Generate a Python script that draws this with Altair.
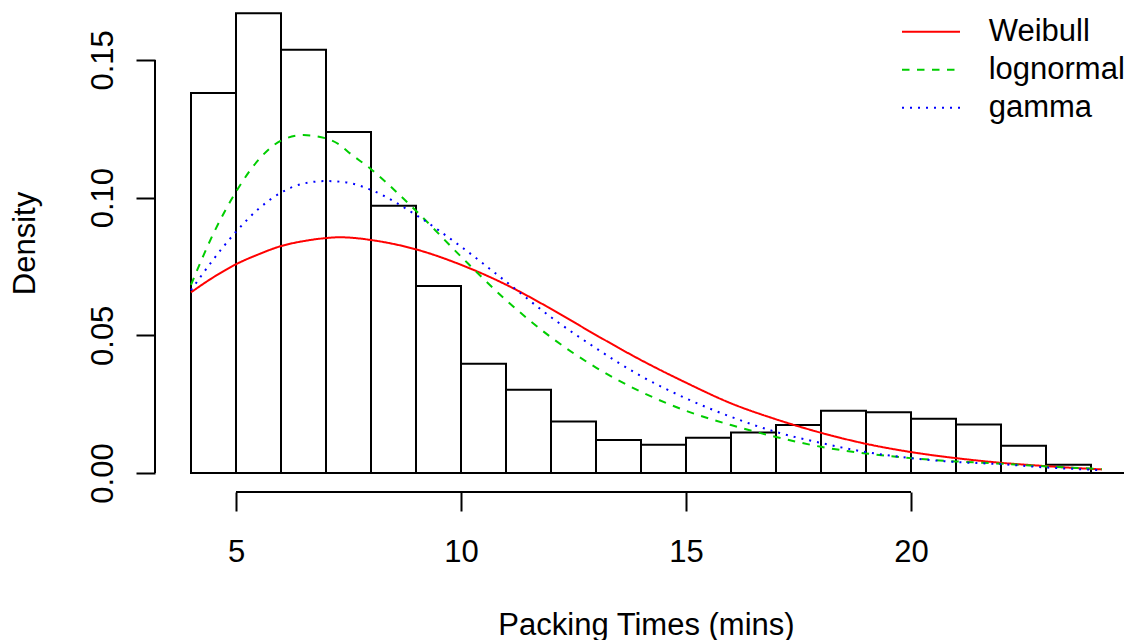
import altair as alt
import pandas as pd

# ---------------- data ----------------
bin_left = [4, 5, 6, 7, 8, 9, 10, 11, 12, 13, 14, 15, 16, 17, 18, 19, 20, 21, 22, 23, 24]
bin_right = [5, 6, 7, 8, 9, 10, 11, 12, 13, 14, 15, 16, 17, 18, 19, 20, 21, 22, 23, 24, 25]
bin_density = [0.1380, 0.1669, 0.1537, 0.1238, 0.0970, 0.0679, 0.0397, 0.0302, 0.0187,
               0.0120, 0.0103, 0.0128, 0.0147, 0.0174, 0.0226, 0.0221, 0.0197, 0.0176,
               0.0099, 0.0030, 0.0]

curve_x = [4, 4.5, 5, 5.5, 6, 6.5, 7, 7.3, 7.5, 8, 9, 10, 11, 12, 13, 14, 15, 16, 17,
           18, 19, 20, 21, 22, 23, 24, 24.24]
weibull = [0.0656, 0.0711, 0.0758, 0.0794, 0.0824, 0.0842, 0.0853, 0.0856, 0.0855, 0.0846,
           0.0812, 0.0756, 0.0684, 0.0596, 0.0501, 0.0410, 0.0328, 0.0253, 0.0195,
           0.0146, 0.0106, 0.0076, 0.0054, 0.0037, 0.0025, 0.0015, 0.0013]
lognormal = [0.0683, 0.0870, 0.1021, 0.1137, 0.1207, 0.1227, 0.1215, 0.1192, 0.1165, 0.1103,
             0.0952, 0.0786, 0.0628, 0.0493, 0.0383, 0.0295, 0.0226, 0.0174, 0.0131,
             0.0095, 0.0071, 0.0054, 0.0042, 0.0034, 0.0024, 0.0016, 0.0014]
gamma = [0.0664, 0.0776, 0.0876, 0.0959, 0.1018, 0.1051, 0.1060, 0.1058, 0.1054, 0.1028,
         0.0937, 0.0822, 0.0695, 0.0566, 0.0453, 0.0352, 0.0271, 0.0204, 0.0149,
         0.0109, 0.0076, 0.0054, 0.0040, 0.0032, 0.0020, 0.0012, 0.0010]

series_names = ["Weibull", "lognormal", "gamma"]
series_colors = ["#FF0000", "#00CD00", "#0000FF"]
series_dashes = [[1, 0], [7.5, 7.5], [2, 6]]

x_ticks = [5, 10, 15, 20]
y_ticks = [0.00, 0.05, 0.10, 0.15]

x_domain = [3.2, 24.7333]
y_domain = [-0.0069, 0.16885]

FONT = "Liberation Sans"
FS = 31

# ---------------- tables ----------------
hist_df = pd.DataFrame({"left": bin_left, "right": bin_right,
                        "density": bin_density, "base": [0.0] * len(bin_left)})

curve_df = pd.DataFrame({
    "x": curve_x * 3,
    "density": weibull + lognormal + gamma,
    "dist": [n for n in series_names for _ in curve_x],
})

xaxis_line_df = pd.DataFrame({"x": [x_ticks[0]], "x2": [x_ticks[-1]], "y": [y_domain[0]]})
yaxis_line_df = pd.DataFrame({"x": [x_domain[0]], "y": [y_ticks[0]], "y2": [y_ticks[-1]]})

# ---------------- scales and axes ----------------
x_scale = alt.Scale(domain=x_domain, nice=False, zero=False)
y_scale = alt.Scale(domain=y_domain, nice=False, zero=False)

x_axis = alt.Axis(values=x_ticks, title="Packing Times (mins)", format="d",
                  labelBaseline="alphabetic", labelAlign="center", labelPadding=50,
                  labelFlush=False, labelOverlap=False,
                  titleX=491, titleY=142, titleAlign="center", titleBaseline="alphabetic")
y_axis = alt.Axis(values=y_ticks, title="Density", format=".2f",
                  labelAngle=270, labelAlign="center", labelBaseline="alphabetic",
                  labelPadding=24, labelFlush=False, labelOverlap=False,
                  titleAngle=270, titleX=-121, titleY=235, titleAlign="center",
                  titleBaseline="alphabetic")

legend = alt.Legend(title=None, orient="none", legendX=746, legendY=5,
                    symbolType="stroke", symbolSize=3364, symbolStrokeWidth=2,
                    symbolOffset=0, labelOffset=27.7, rowPadding=0, padding=0,
                    clipHeight=37.5,
                    labelFont=FONT, labelFontSize=FS, labelColor="black")

# ---------------- layers ----------------
bars = alt.Chart(hist_df).mark_rect(fill="white", stroke="black", strokeWidth=2, clip=True).encode(
    x=alt.X("left:Q", scale=x_scale, axis=x_axis),
    x2="right:Q",
    y=alt.Y("base:Q", scale=y_scale, axis=y_axis),
    y2="density:Q",
)

lines = alt.Chart(curve_df).mark_line(strokeWidth=2, interpolate="monotone").encode(
    x=alt.X("x:Q", scale=x_scale, axis=x_axis),
    y=alt.Y("density:Q", scale=y_scale, axis=y_axis),
    color=alt.Color("dist:N", scale=alt.Scale(domain=series_names, range=series_colors),
                    legend=legend),
    strokeDash=alt.StrokeDash("dist:N", scale=alt.Scale(domain=series_names, range=series_dashes),
                              legend=legend),
)

x_line = alt.Chart(xaxis_line_df).mark_rule(color="black", strokeWidth=2).encode(
    x=alt.X("x:Q", scale=x_scale, axis=x_axis),
    x2="x2:Q",
    y=alt.Y("y:Q", scale=y_scale, axis=y_axis),
)

y_line = alt.Chart(yaxis_line_df).mark_rule(color="black", strokeWidth=2).encode(
    x=alt.X("x:Q", scale=x_scale, axis=x_axis),
    y=alt.Y("y:Q", scale=y_scale, axis=y_axis),
    y2="y2:Q",
)

chart = alt.layer(bars, lines, x_line, y_line).properties(
    width=969, height=484,
    padding={"left": 147, "top": 0, "right": 0, "bottom": 148},
    autosize=alt.AutoSizeParams(type="none"),
    background="white",
).configure_view(stroke=None).configure_axis(
    grid=False, domain=False, ticks=True, tickColor="black", tickWidth=2, tickSize=19,
    labelFont=FONT, labelFontSize=FS, labelColor="black",
    titleFont=FONT, titleFontSize=FS, titleColor="black", titleFontWeight="normal",
)

chart.save("out.html", embed_options={"renderer": "svg", "actions": False})
